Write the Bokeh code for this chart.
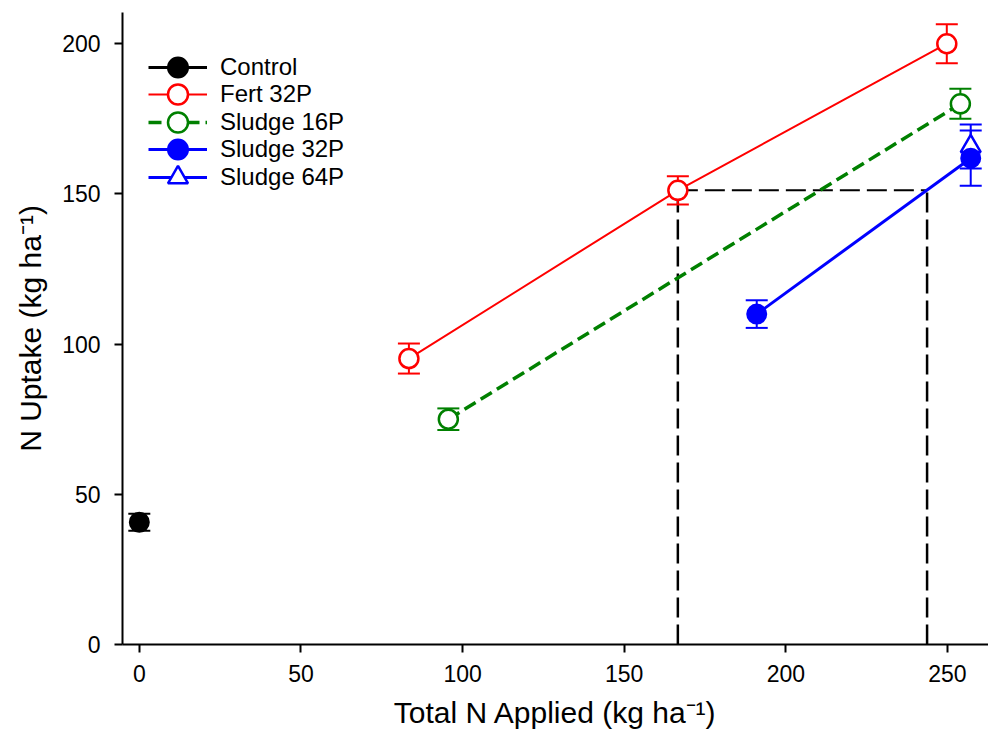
from bokeh.plotting import figure
from bokeh.models import Range1d, Legend, LegendItem, FixedTicker
from bokeh.embed import file_html
from bokeh.resources import INLINE

# ---- data ----
control_x = [0.0]
control_y = [40.7]
control_err = [2.8]

fert_x = [83.4, 166.6, 249.8]
fert_y = [95.2, 151.2, 200.0]
fert_err = [5.0, 4.7, 6.5]

s16_x = [95.6, 254.0]
s16_y = [75.0, 180.0]
s16_err = [3.6, 5.0]

s32_x = [191.0, 257.2]
s32_y = [110.0, 161.9]
s32_err = [4.6, 9.2]

s64_x = [257.2]
s64_y = [165.8]
s64_err = [7.3]

guide_x = [166.6, 243.7]
guide_y = 151.2

x_ticks = [0, 50, 100, 150, 200, 250]
y_ticks = [0, 50, 100, 150, 200]

series_labels = ["Control", "Fert 32P", "Sludge 16P", "Sludge 32P", "Sludge 64P"]

FONT = "Liberation Sans"
RED = "#FF0000"
GREEN = "#008000"
BLUE = "#0000FF"
BLACK = "#000000"

p = figure(width=988, height=736, output_backend="svg", toolbar_location=None,
           x_range=Range1d(-5.2, 262.7), y_range=Range1d(0, 210.4),
           min_border_left=122, min_border_top=12, min_border_right=0,
           min_border_bottom=92)
p.outline_line_color = None
p.grid.visible = False
p.background_fill_color = "white"

for ax in (p.xaxis[0], p.yaxis[0]):
    ax.axis_line_width = 2
    ax.axis_line_color = BLACK
    ax.major_tick_line_width = 2
    ax.major_tick_line_color = BLACK
    ax.major_tick_out = 8
    ax.major_tick_in = 0
    ax.minor_tick_line_color = None
    ax.major_label_text_font = FONT
    ax.major_label_text_font_size = "23px"
    ax.major_label_text_color = BLACK
    ax.axis_label_text_font = FONT
    ax.axis_label_text_font_size = "30px"
    ax.axis_label_text_font_style = "normal"
    ax.axis_label_text_color = BLACK

p.xaxis.ticker = FixedTicker(ticks=x_ticks)
p.yaxis.ticker = FixedTicker(ticks=y_ticks)
p.xaxis.major_label_standoff = 12
p.yaxis.major_label_standoff = 14
p.xaxis.axis_label = "Total N Applied (kg ha\u207b\u00b9)"
p.yaxis.axis_label = "N Uptake (kg ha\u207b\u00b9)"
p.xaxis.axis_label_standoff = 11
p.yaxis.axis_label_standoff = 12

# guide dashed lines
p.segment(x0=guide_x, y0=[0, 0], x1=guide_x, y1=[guide_y, guide_y],
          line_color=BLACK, line_width=2.5, line_dash="20 7")
p.segment(x0=[guide_x[0]], y0=[guide_y], x1=[guide_x[1]], y1=[guide_y],
          line_color=BLACK, line_width=2, line_dash="20 7")


def errbars(xs, ys, es, color):
    lo = [y - e for y, e in zip(ys, es)]
    hi = [y + e for y, e in zip(ys, es)]
    p.segment(x0=xs, y0=lo, x1=xs, y1=hi, line_color=color, line_width=2)
    p.scatter(xs + xs, lo + hi, marker="dash", size=22, line_color=color,
              line_width=2)


# lines
l_fert = p.line(fert_x, fert_y, line_color=RED, line_width=2)
l_s16 = p.line(s16_x, s16_y, line_color=GREEN, line_width=3.5, line_dash="13 6")
l_s32 = p.line(s32_x, s32_y, line_color=BLUE, line_width=3)
# single-point lines: invisible in the plot, give the legend its line sample
l_control = p.line(control_x, control_y, line_color=BLACK, line_width=3)
l_s64 = p.line(s64_x, s64_y, line_color=BLUE, line_width=3)

errbars(control_x, control_y, control_err, BLACK)
errbars(fert_x, fert_y, fert_err, RED)
errbars(s16_x, s16_y, s16_err, GREEN)
errbars(s64_x, s64_y, s64_err, BLUE)
errbars(s32_x, s32_y, s32_err, BLUE)

m_control = p.scatter(control_x, control_y, marker="circle", size=19,
                      fill_color=BLACK, line_color=BLACK, line_width=2)
m_fert = p.scatter(fert_x, fert_y, marker="circle", size=19, fill_color="white",
                   line_color=RED, line_width=2.5)
m_s16 = p.scatter(s16_x, s16_y, marker="circle", size=19, fill_color="white",
                  line_color=GREEN, line_width=2.5)
m_s64 = p.scatter(s64_x, s64_y, marker="triangle", size=20, fill_color="white",
                  line_color=BLUE, line_width=2.5)
m_s32 = p.scatter(s32_x, s32_y, marker="circle", size=19, fill_color=BLUE,
                  line_color=BLUE, line_width=2)

renderer_pairs = [
    [l_control, m_control],
    [l_fert, m_fert],
    [l_s16, m_s16],
    [l_s32, m_s32],
    [l_s64, m_s64],
]

# one single-row legend per series, so that markers stay large while rows stay tight
ROW_PITCH = 27.5
FIRST_BOTTOM = 552.5
for i, (lab, rends) in enumerate(zip(series_labels, renderer_pairs)):
    lg = Legend(items=[LegendItem(label=lab, renderers=rends)],
                location=(26, FIRST_BOTTOM - i * ROW_PITCH))
    lg.border_line_color = None
    lg.background_fill_alpha = 0
    lg.padding = 0
    lg.margin = 0
    lg.spacing = 0
    lg.glyph_width = 59
    lg.glyph_height = 50
    lg.label_height = 50
    lg.label_standoff = 13
    lg.label_text_font = FONT
    lg.label_text_font_size = "24px"
    lg.label_text_color = BLACK
    lg.label_text_baseline = "middle"
    p.add_layout(lg, "center")

open("out.html", "w").write(file_html(p, INLINE))
